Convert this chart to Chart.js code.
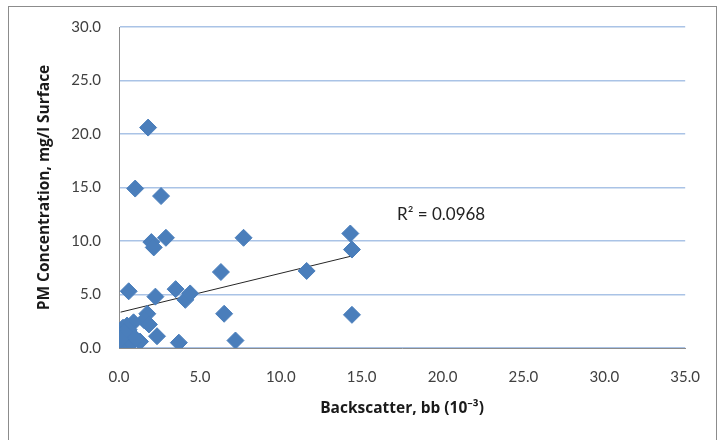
<!DOCTYPE html>
<html lang="en">
  <head>
    <meta charset="UTF-8" />
    <title>PM vs Backscatter</title>
    <script src="https://cdn.jsdelivr.net/npm/chart.js@4"></script>
    <style>
      html, body { margin: 0; padding: 0; background: #fff; }
    </style>
  </head>
  <body>
    <canvas id="myChart" width="720" height="440"></canvas>

    <script>
      // backscatter bb (10^-3) and PM concentration (mg/l)
      const backscatter = [1.8, 1.0, 2.6, 2.0, 2.15, 2.9, 7.7, 14.3, 14.4, 11.6, 6.3, 0.6, 3.5, 2.25, 4.1, 4.4, 6.5, 14.4, 7.2, 3.7, 2.35, 1.75, 1.55, 1.85, 0.9, 1.3, 0.2, 0.3, 0.25, 0.5, 0.45, 0.7, 0.8, 1.0, 0.6, 0.3, 0.1];
      const pmConc = [20.6, 14.9, 14.2, 9.9, 9.4, 10.3, 10.3, 10.7, 9.2, 7.2, 7.1, 5.3, 5.5, 4.8, 4.5, 5.1, 3.2, 3.1, 0.7, 0.5, 1.1, 3.2, 2.6, 2.2, 2.4, 0.6, 0.4, 1.0, 1.9, 2.1, 0.6, 1.3, 0.5, 0.9, 1.7, 1.5, 0.8];
      // trendline end points as drawn
      const trendX = [0.1, 14.4];
      const trendY = [3.35, 8.6];
      const rSquared = "R² = 0.0968";

      const font = "Lato, 'Open Sans', sans-serif";
      const boldFont = "'Open Sans', 'Noto Sans', sans-serif";
      const points = backscatter.map((x, i) => ({ x: x, y: pmConc[i] }));
      const trend = trendX.map((x, i) => ({ x: x, y: trendY[i] }));

      const frame = {
        id: "frame",
        beforeDraw(chart) {
          const ctx = chart.ctx;
          ctx.save();
          ctx.strokeStyle = "#8c8c8c";
          ctx.lineWidth = 1;
          ctx.strokeRect(8.5, 6.5, 708, 440);
          ctx.restore();
        },
        afterDatasetsDraw(chart) {
          const ctx = chart.ctx;
          ctx.save();
          ctx.fillStyle = "#222";
          ctx.font = "17px " + font;
          ctx.textBaseline = "middle";
          ctx.fillText(rSquared, 397, 215);
          ctx.restore();
        },
      };

      const ctx = document.getElementById("myChart").getContext("2d");
      const myChart = new Chart(ctx, {
        type: "scatter",
        data: {
          datasets: [
            {
              label: "PM",
              data: points,
              pointStyle: "rectRot",
              pointRadius: 8.5,
              pointHoverRadius: 8.5,
              backgroundColor: "#4a7ebb",
              borderColor: "#4a7ebb",
              borderWidth: 1,
            },
            {
              label: "Trend",
              data: trend,
              showLine: true,
              pointRadius: 0,
              borderColor: "#262626",
              borderWidth: 1,
            },
          ],
        },
        plugins: [frame],
        options: {
          responsive: false,
          animation: false,
          layout: { padding: { top: 27, right: 30, left: 0, bottom: 0 } },
          plugins: { legend: { display: false }, tooltip: { enabled: false } },
          scales: {
            x: {
              type: "linear",
              min: 0,
              max: 35,
              afterFit: (s) => { s.height = 92; },
              ticks: {
                stepSize: 5,
                padding: 20,
                color: "#404040",
                font: { family: font, size: 15 },
                callback: (v) => v.toFixed(1),
              },
              grid: { display: false, drawTicks: false },
              border: { display: true, color: "#8c8c8c", width: 1 },
              title: {
                display: true,
                text: "Backscatter, bb (10⁻³)",
                color: "#1a1a1a",
                font: { family: boldFont, size: 15.5, weight: "bold" },
                padding: { top: 0, bottom: 22 },
              },
            },
            y: {
              min: 0,
              max: 30,
              afterFit: (s) => { s.width = 119; },
              ticks: {
                stepSize: 5,
                padding: 18,
                color: "#404040",
                font: { family: font, size: 15 },
                callback: (v) => v.toFixed(1),
              },
              grid: { color: "#aac3e6", lineWidth: 1.5, drawTicks: false },
              border: { display: true, color: "#8c8c8c", width: 1 },
              title: {
                display: true,
                text: "PM Concentration, mg/l Surface",
                color: "#1a1a1a",
                font: { family: boldFont, size: 15.5, weight: "bold" },
                padding: { top: 35, bottom: 0 },
              },
            },
          },
        },
      });
    </script>
  </body>
</html>
